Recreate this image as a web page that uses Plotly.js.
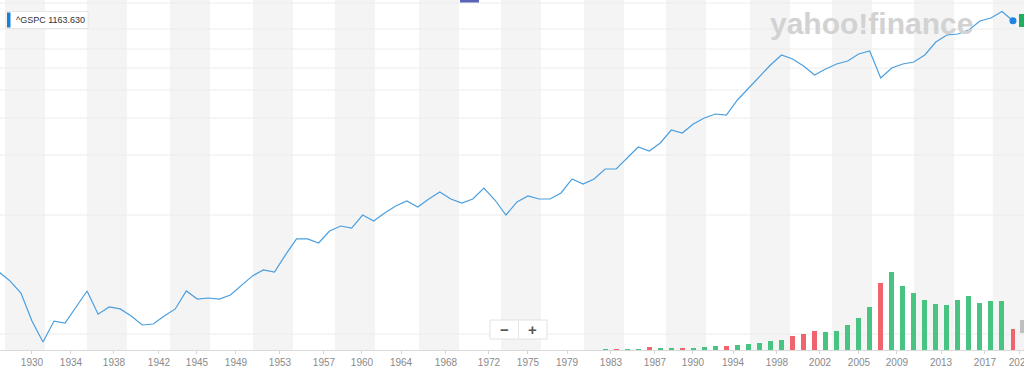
<!DOCTYPE html>
<html>
<head>
<meta charset="utf-8">
<script src="https://cdn.plot.ly/plotly-3.0.1.min.js"></script>
<style>
  html, body { margin: 0; padding: 0; background: #ffffff; }
  #chart { width: 1024px; height: 369px; }
</style>
</head>
<body>
<div id="chart"></div>
<script>
// ---- data ----
const years = [1928,1929,1930,1931,1932,1933,1934,1935,1936,1937,1938,1939,1940,1941,1942,1943,1944,1945,1946,1947,
  1948,1949,1950,1951,1952,1953,1954,1955,1956,1957,1958,1959,1960,1961,1962,1963,1964,1965,1966,1967,
  1968,1969,1970,1971,1972,1973,1974,1975,1976,1977,1978,1979,1980,1981,1982,1983,1984,1985,1986,1987,
  1988,1989,1990,1991,1992,1993,1994,1995,1996,1997,1998,1999,2000,2001,2002,2003,2004,2005,2006,2007,
  2008,2009,2010,2011,2012,2013,2014,2015,2016,2017,2018,2019,2020];

const closes = [25.6,21.7,17.3,10.3,6.99,10.3,9.94,13.4,18.0,11.7,13.4,12.9,11.3,9.58,9.76,11.3,12.9,18.0,15.5,15.8,
  15.5,16.7,20.1,23.8,26.6,25.6,35.1,47.2,47.2,43.8,54.7,60.0,57.8,73.6,65.9,76.4,87.0,95.4,85.4,99.0,
  112.7,99.0,91.9,99.0,121.4,97.2,73.6,93.7,104.7,99.0,99.0,110.7,143.5,130.8,143.5,172.7,172.7,211.8,259.7,241.1,
  279.7,355.8,336.6,397.8,444.6,478.6,469.9,620.5,775.3,968.5,1187.6,1429.5,1327.4,1165.7,986.5,1102.6,1209.4,1279.0,1456.0,1539.4,
  933.3,1123.4,1209.4,1255.4,1429.5,1818.4,2071.3,2110,2273,2685,2839,3202,2700];

const volYears = [1983,1984,1985,1986,1987,1988,1989,1990,1991,1992,1993,1994,1995,1996,1997,1998,1999,2000,2001,2002,
  2003,2004,2005,2006,2007,2008,2009,2010,2011,2012,2013,2014,2015,2016,2017,2018,2019,2020];
// volume, billions of shares
const volumes = [13,16,19,24,45,29,32,37,40,48,61,67,77,93,112,147,168,232,264,304,
  296,304,408,512,696,1080,1256,1024,920,800,744,720,800,872,760,784,792,336];
// 1 = up period (green), 0 = down period (red)
const volUp = [1,0,1,1,0,1,1,0,1,1,1,0,1,1,1,1,1,0,0,0,
  1,1,1,1,1,0,1,1,1,1,1,1,1,1,1,1,1,0];

const tickPos = [1931.0,1934.54,1938.44,1942.52,1945.97,1949.51,1953.5,1957.49,1960.94,1964.48,1968.56,1972.46,
  1976.0,1979.54,1983.53,1987.52,1990.97,1994.6,1998.59,2002.49,2006.03,2009.47,2013.47,2017.46,2020.63];
const tickLabels = ['1930','1934','1938','1942','1945','1949','1953','1957','1960','1964','1968','1972',
  '1975','1979','1983','1987','1990','1994','1998','2002','2005','2009','2013','2017','2020'];

const legendText = '^GSPC 1163.630';

// ---- layout helpers ----
const W = 1024, PH = 350;            // plot area height in px
const px = v => v / W;               // paper x from pixel
const py = v => 1 - v / PH;          // paper y from pixel (top = 0)

const shapes = [];
// alternating vertical bands
tickPos.forEach((t, i) => {
  if (i % 2 === 0) {
    shapes.push({type:'rect', xref:'x', yref:'paper', x0:t-2.45, x1:t+1.18, y0:0, y1:1,
      fillcolor:'#f4f4f4', line:{width:0}, layer:'below'});
  }
});
// faint horizontal grid
[3, 29, 49, 68, 90, 118, 155, 215, 334].forEach(r => {
  shapes.push({type:'line', xref:'paper', yref:'paper', x0:0, x1:1, y0:py(r), y1:py(r),
    line:{color:'#ececec', width:1}, layer:'below'});
});
// small navigator mark at top
shapes.push({type:'rect', xref:'paper', yref:'paper', x0:px(460), x1:px(479), y0:py(2.5), y1:py(0),
  fillcolor:'#5a63b5', line:{width:0}});
// legend box
shapes.push({type:'rect', xref:'paper', yref:'paper', x0:px(6), x1:px(88), y0:py(28.5), y1:py(11.5),
  fillcolor:'#ffffff', line:{color:'#e6e6e6', width:1}});
shapes.push({type:'rect', xref:'paper', yref:'paper', x0:px(7), x1:px(10.5), y0:py(27.5), y1:py(12.5),
  fillcolor:'#1a7fd6', line:{width:0}});
// zoom control box
shapes.push({type:'rect', xref:'paper', yref:'paper', x0:px(490), x1:px(547), y0:py(339), y1:py(320),
  fillcolor:'#ffffff', line:{color:'#e2e2e2', width:1}});
shapes.push({type:'line', xref:'paper', yref:'paper', x0:px(518.5), x1:px(518.5), y0:py(338), y1:py(321),
  line:{color:'#e6e6e6', width:1}});
// cut-off axis tags on the right
shapes.push({type:'rect', xref:'paper', yref:'paper', x0:px(1019), x1:1, y0:py(27), y1:py(14),
  fillcolor:'#1fae5e', line:{width:0}});
shapes.push({type:'rect', xref:'paper', yref:'paper', x0:px(1020), x1:1, y0:py(333), y1:py(320),
  fillcolor:'#bfbfbf', line:{width:0}});

const annotations = [
  {xref:'paper', yref:'paper', x:px(14), y:py(20), xanchor:'left', yanchor:'middle', showarrow:false,
   text:legendText, font:{family:'Liberation Sans, Arial, sans-serif', size:9, color:'#333333'}},
  {xref:'paper', yref:'paper', x:px(871), y:py(23), xanchor:'center', yanchor:'middle', showarrow:false,
   text:'<b>yahoo!finance</b>', font:{family:'Liberation Sans, Arial, sans-serif', size:30, color:'#d2d2d2'}},
  {xref:'paper', yref:'paper', x:px(504), y:py(329.5), xanchor:'center', yanchor:'middle', showarrow:false,
   text:'<b>−</b>', font:{family:'Liberation Sans, Arial, sans-serif', size:15, color:'#555555'}},
  {xref:'paper', yref:'paper', x:px(532), y:py(329.5), xanchor:'center', yanchor:'middle', showarrow:false,
   text:'<b>+</b>', font:{family:'Liberation Sans, Arial, sans-serif', size:15, color:'#555555'}}
];

const traces = [
  {type:'bar', x:volYears, y:volumes, yaxis:'y2', width:0.45,
   marker:{color:volUp.map(u => u ? '#47c382' : '#f0646e'), line:{width:0}},
   hoverinfo:'skip', showlegend:false},
  {type:'scatter', mode:'lines', x:years, y:closes,
   line:{color:'#4a9fe0', width:1.2}, hoverinfo:'skip', showlegend:false},
  {type:'scatter', mode:'markers', x:[years[years.length-1]], y:[closes[closes.length-1]],
   marker:{color:'#1f86e0', size:7}, hoverinfo:'skip', showlegend:false}
];

const layout = {
  width: 1024, height: 369,
  margin: {l:0, r:0, t:0, b:19, pad:0},
  paper_bgcolor:'#ffffff', plot_bgcolor:'#ffffff',
  showlegend:false,
  xaxis: {range:[1928.1, 2021.0], tickmode:'array', tickvals:tickPos, ticktext:tickLabels,
    showgrid:false, zeroline:false, showline:true, linecolor:'#dadada', linewidth:1,
    ticks:'outside', ticklen:3, tickcolor:'#d4d4d4', ticklabeloverflow:'allow',
    tickfont:{family:'Liberation Sans, Arial, sans-serif', size:10, color:'#8a8a8a'}, fixedrange:true},
  yaxis: {type:'log', range:[0.780, 3.598], showticklabels:false, showgrid:false, zeroline:false,
    showline:false, ticks:'', fixedrange:true},
  yaxis2: {overlaying:'y', range:[0, 5600], visible:false, fixedrange:true},
  shapes: shapes,
  annotations: annotations,
  bargap: 0
};

Plotly.newPlot('chart', traces, layout, {displayModeBar:false, staticPlot:true});
</script>
</body>
</html>
